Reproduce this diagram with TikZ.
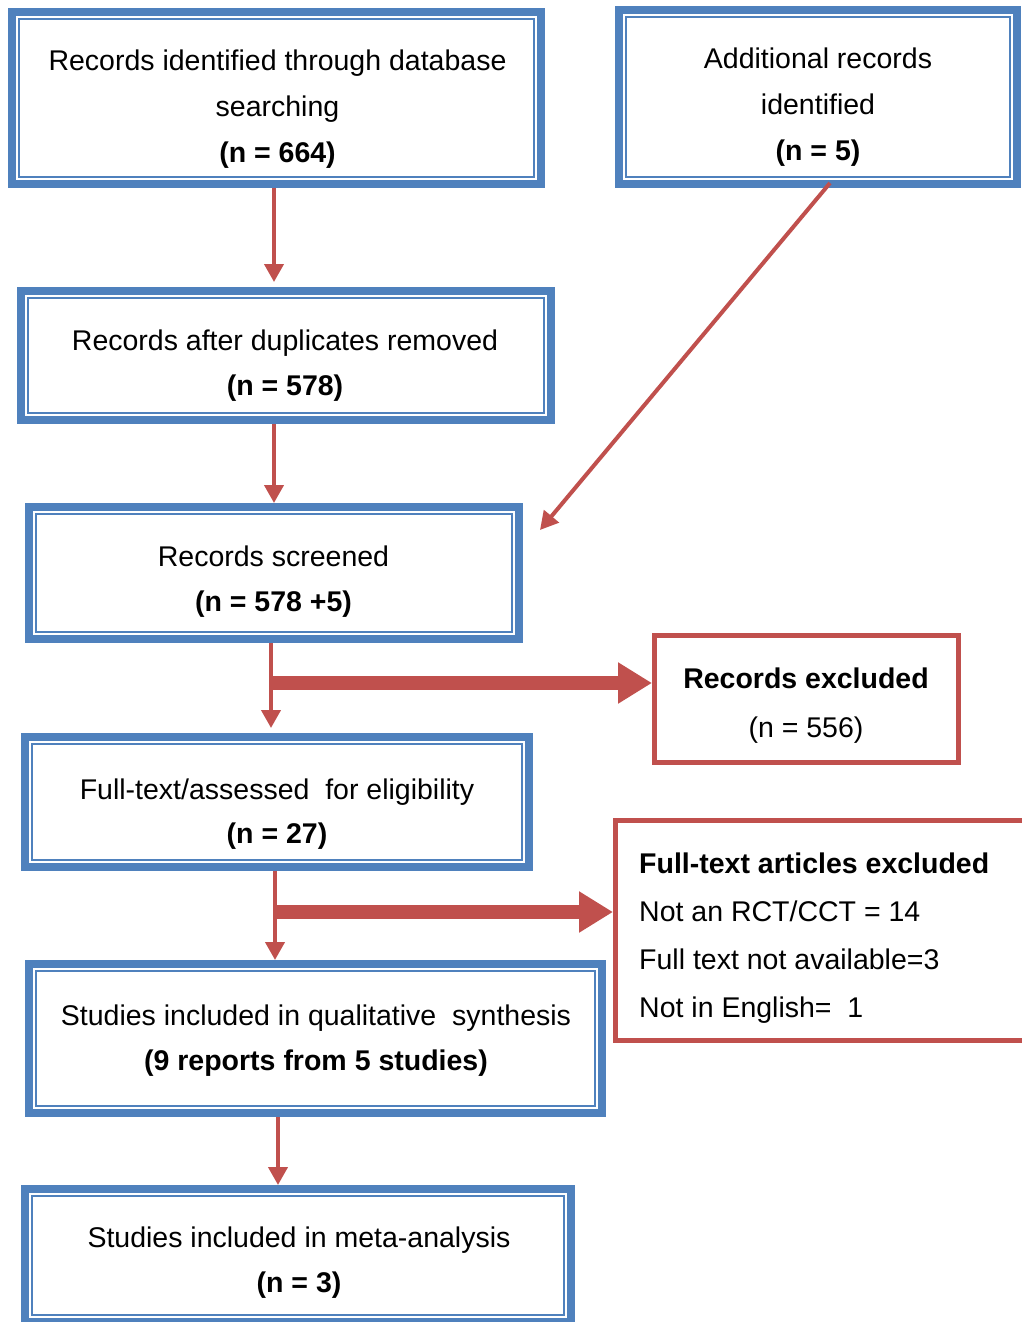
\documentclass[tikz,border=0pt]{standalone}
\usepackage{fontspec}
\setmainfont{Liberation Sans}
\usetikzlibrary{arrows.meta}
\definecolor{boxblue}{HTML}{4F81BD}
\definecolor{arrred}{HTML}{C0504D}

\begin{document}
\begin{tikzpicture}[x=1pt,y=-1pt,
  bluebox/.style={draw=boxblue, line width=8pt, inner sep=0pt, rectangle},
  redbox/.style={draw=arrred, line width=5pt, inner sep=0pt, rectangle},
  innerline/.style={draw=boxblue, line width=1.8pt},
  txt/.style={align=center, inner sep=0pt, text=black, font=\fontsize{28.5}{46}\selectfont},
  thinarr/.style={draw=arrred, line width=4pt, -{Triangle[width=19pt,length=18pt]}},
  thickarr/.style={draw=arrred, line width=14pt, -{Triangle[width=39pt,length=34pt]}},
]
\useasboundingbox (0,0) rectangle (1021,1322);

% blue flow boxes (outer band + thin inner rule)
\node[bluebox, minimum width=529pt, minimum height=172pt] (b1) at (276.5,98) {};
\node[bluebox, minimum width=398pt, minimum height=174pt] (b2) at (818,97) {};
\node[bluebox, minimum width=530pt, minimum height=129pt] (b3) at (286,355.5) {};
\node[bluebox, minimum width=490pt, minimum height=132pt] (b4) at (274,573) {};
\node[bluebox, minimum width=504pt, minimum height=130pt] (b5) at (277,802) {};
\node[bluebox, minimum width=573pt, minimum height=149pt] (b6) at (315.5,1038.5) {};
\node[bluebox, minimum width=546pt, minimum height=133pt] (b7) at (298,1255.5) {};
\foreach \n in {b1,b2,b3,b4,b5,b6,b7}
  \draw[innerline] ([shift={(11,11)}]\n.north west) rectangle ([shift={(-11,-11)}]\n.south east);

% red exclusion boxes
\node[redbox, minimum width=304pt, minimum height=127pt] (r1) at (806.5,699) {};
\node[redbox, minimum width=412pt, minimum height=220pt] (r2) at (821.5,930.5) {};

% box texts
\node[txt] (t1) at (277.5,109) {Records identified through database\\searching\\\textbf{(n = 664)}};
\node[txt] (t2) at (818,107) {Additional records\\identified\\\textbf{(n = 5)}};
\node[txt, font=\fontsize{28.5}{45}\selectfont] (t3) at (285,365.5) {Records after duplicates removed\\\textbf{(n = 578)}};
\node[txt, font=\fontsize{28.5}{45}\selectfont] (t4) at (273.5,581.5) {Records screened\\\textbf{(n = 578 +5)}};
\node[txt, font=\fontsize{28.5}{44}\selectfont] (t5) at (277,814) {Full-text/assessed\ \ for eligibility\\\textbf{(n = 27)}};
\node[txt, font=\fontsize{28.5}{45}\selectfont] (t6) at (316,1040.5) {Studies included in qualitative\ \ synthesis\\\textbf{(9 reports from 5 studies)}};
\node[txt, font=\fontsize{28.5}{45}\selectfont] (t7) at (299,1262.5) {Studies included in meta-analysis\\\textbf{(n = 3)}};
\node[txt, font=\fontsize{28.5}{49}\selectfont] (t8) at (806,705.5) {\textbf{Records excluded}\\(n = 556)};
\node[txt, align=left, anchor=west, font=\fontsize{28.5}{48}\selectfont] (t9) at (639,938)
  {\textbf{Full-text articles excluded}\\Not an RCT/CCT = 14\\Full text not available=3\\Not in English=\ \ 1};

% connector positions
\coordinate (xa) at (274,0);
\coordinate (xb) at (274,0);
\coordinate (xc) at (271,0);
\coordinate (xd) at (275,0);
\coordinate (xe) at (278,0);
\coordinate (ha) at (0,683);
\coordinate (hb) at (0,912);
\coordinate (da) at (830,183);
\coordinate (db) at (540,530);

% arrows
\draw[thinarr, shorten >=5pt] (b1.south -| xa) -- (b3.north -| xa);
\draw[thinarr] (b3.south -| xb) -- (b4.north -| xb);
\draw[thinarr] (da) -- (db);
\draw[thinarr, shorten >=5pt] (b4.south -| xc) -- (b5.north -| xc);
\draw[thickarr] (xc |- ha) -- (r1.west |- ha);
\draw[thinarr] (b5.south -| xd) -- (b6.north -| xd);
\draw[thickarr] (xd |- hb) -- (r2.west |- hb);
\draw[thinarr] (b6.south -| xe) -- (b7.north -| xe);
\end{tikzpicture}
\end{document}
